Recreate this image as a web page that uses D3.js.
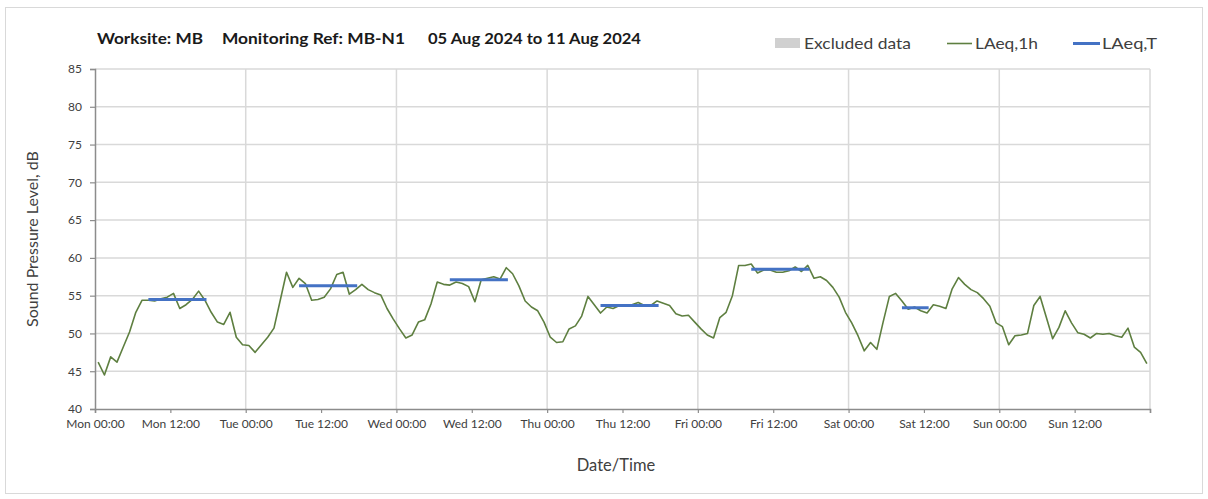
<!DOCTYPE html>
<html>
<head>
<meta charset="utf-8">
<script src="https://cdn.jsdelivr.net/npm/d3@7"></script>
<style>
  body { margin: 0; background: #ffffff; }
  text { font-family: Lato, "Open Sans", sans-serif; }
</style>
</head>
<body>
<div id="cnt"></div>
<script>
// LAeq,1h hourly values, one array per day (00:00 .. 23:00)
let mon = [46.2, 44.5, 46.9, 46.2, 48.2, 50.2, 52.8, 54.4, 54.4, 54.3, 54.6, 54.8, 55.3, 53.3, 53.8, 54.5, 55.6, 54.4, 52.8, 51.5, 51.2, 52.8, 49.5, 48.5];
let tue = [48.4, 47.5, 48.5, 49.5, 50.7, 54.4, 58.1, 56.1, 57.3, 56.6, 54.4, 54.5, 54.8, 55.9, 57.8, 58.1, 55.2, 55.8, 56.5, 55.8, 55.4, 55.1, 53.3, 51.9];
let wed = [50.6, 49.4, 49.8, 51.5, 51.8, 53.9, 56.8, 56.5, 56.4, 56.8, 56.6, 56.2, 54.2, 57.1, 57.3, 57.5, 57.2, 58.7, 57.9, 56.3, 54.3, 53.5, 53.0, 51.5];
let thu = [49.5, 48.8, 48.9, 50.6, 51.0, 52.3, 54.9, 53.8, 52.7, 53.5, 53.3, 53.7, 53.8, 53.8, 54.1, 53.7, 53.7, 54.3, 54.0, 53.7, 52.6, 52.3, 52.4, 51.5];
let fri = [50.6, 49.8, 49.4, 52.1, 52.8, 55.0, 59.0, 59.0, 59.2, 58.0, 58.4, 58.4, 58.1, 58.1, 58.3, 58.8, 58.2, 59.0, 57.3, 57.5, 57.0, 56.1, 54.8, 52.8];
let sat = [51.4, 49.7, 47.7, 48.8, 47.9, 51.5, 54.9, 55.3, 54.3, 53.2, 53.5, 53.0, 52.7, 53.8, 53.6, 53.3, 55.9, 57.4, 56.5, 55.8, 55.4, 54.6, 53.6, 51.4];
let sun = [50.9, 48.5, 49.7, 49.8, 50.0, 53.7, 54.9, 52.1, 49.3, 50.8, 53.0, 51.4, 50.1, 49.9, 49.4, 50.0, 49.9, 50.0, 49.7, 49.5, 50.7, 48.2, 47.5, 46.0];

// LAeq,T periods (day index from Mon, start/end hour, level)
let periodDay = [0, 1, 2, 3, 4, 5];
let periodStart = [8, 8, 8, 8, 8, 8];
let periodEnd = [18, 18, 18, 18, 18, 13];
let periodValue = [54.5, 56.3, 57.1, 53.7, 58.5, 53.4];

let yTicks = [40, 45, 50, 55, 60, 65, 70, 75, 80, 85];

let ancho = 1208;
let largo = 499;
let izq = 95, der = 1150, arriba = 69, abajo = 409;

let t0 = Date.UTC(2024, 7, 5, 0, 0);
let hora = 3600 * 1000;

let horas = mon.concat(tue, wed, thu, fri, sat, sun).map(function (v, i) {
    return { t: new Date(t0 + (i + 0.5) * hora), v: v };
});

let x = d3.scaleUtc()
    .domain([new Date(t0), new Date(t0 + 168 * hora)])
    .range([izq, der]);

let y = d3.scaleLinear()
    .domain([40, 85])
    .range([abajo, arriba]);

let svg = d3.select('#cnt')
    .append("svg")
    .attr('width', ancho)
    .attr('height', largo);

//Marco exterior
svg.append("rect")
    .attr('x', 5.5)
    .attr('y', 7.5)
    .attr('width', 1197)
    .attr('height', 486)
    .style('fill', 'none')
    .style('stroke', '#d9d9d9')
    .style('stroke-width', 1);

//Rejilla horizontal
svg.append("g")
    .selectAll("line")
    .data(yTicks.slice(1))
    .enter()
    .append("line")
    .attr('x1', izq)
    .attr('x2', der)
    .attr('y1', function (d) { return y(d); })
    .attr('y2', function (d) { return y(d); })
    .style('stroke', '#d9d9d9')
    .style('stroke-width', 1.5);

//Rejilla vertical (cada dia)
let dias = d3.utcDay.range(new Date(t0 + hora), new Date(t0 + 169 * hora));
svg.append("g")
    .selectAll("line")
    .data(dias)
    .enter()
    .append("line")
    .attr('x1', function (d) { return x(d); })
    .attr('x2', function (d) { return x(d); })
    .attr('y1', arriba)
    .attr('y2', abajo)
    .style('stroke', '#d9d9d9')
    .style('stroke-width', 1.5);

//Ejes
let fmt = d3.utcFormat("%a %H:%M");
let ejeX = svg.append("g")
    .attr('transform', 'translate(0,' + abajo + ')')
    .call(d3.axisBottom(x)
        .ticks(d3.utcHour.every(12))
        .tickSize(4)
        .tickPadding(6)
        .tickFormat(function (d) { return +d >= t0 + 168 * hora ? "" : fmt(d); }));

let ejeY = svg.append("g")
    .attr('transform', 'translate(' + izq + ',0)')
    .call(d3.axisLeft(y)
        .tickValues(yTicks)
        .tickSize(5)
        .tickPadding(8));

[ejeX, ejeY].forEach(function (eje) {
    eje.select(".domain").style('stroke', '#8c8c8c').style('stroke-width', 1.5);
    eje.selectAll(".tick line").style('stroke', '#8c8c8c').style('stroke-width', 1.2);
    eje.selectAll("text")
        .style('font-family', 'Lato, sans-serif')
        .style('font-size', '12px')
        .style('fill', '#404040');
});

//Linea LAeq,1h
let linea = d3.line()
    .x(function (d) { return x(d.t); })
    .y(function (d) { return y(d.v); });

svg.append("path")
    .datum(horas)
    .attr('d', linea)
    .style('fill', 'none')
    .style('stroke', '#5e7f40')
    .style('stroke-width', 1.6)
    .style('stroke-linejoin', 'round');

//Lineas LAeq,T
svg.append("g")
    .selectAll("line")
    .data(periodValue)
    .enter()
    .append("line")
    .attr('x1', function (d, i) { return x(new Date(t0 + (periodDay[i] * 24 + periodStart[i] + 0.5) * hora)); })
    .attr('x2', function (d, i) { return x(new Date(t0 + (periodDay[i] * 24 + periodEnd[i] - 0.25) * hora)); })
    .attr('y1', function (d) { return y(d); })
    .attr('y2', function (d) { return y(d); })
    .style('stroke', '#4472c4')
    .style('stroke-width', 3);

//Titulo
let titulo = [
    { txt: "Worksite: MB", x: 97, w: 106 },
    { txt: "Monitoring Ref: MB-N1", x: 222, w: 183 },
    { txt: "05 Aug 2024 to 11 Aug 2024", x: 428, w: 213 }
];
svg.append("g")
    .selectAll("text")
    .data(titulo)
    .enter()
    .append("text")
    .attr('x', function (d) { return d.x; })
    .attr('y', 44)
    .attr('textLength', function (d) { return d.w; })
    .attr('lengthAdjust', 'spacingAndGlyphs')
    .style('font-size', '16px')
    .style('font-weight', 'bold')
    .style('fill', '#1a1a1a')
    .text(function (d) { return d.txt; });

//Leyenda
svg.append("rect")
    .attr('x', 775)
    .attr('y', 38)
    .attr('width', 25)
    .attr('height', 10)
    .style('fill', '#d0d0d0');
svg.append("line")
    .attr('x1', 947).attr('x2', 972)
    .attr('y1', 43.5).attr('y2', 43.5)
    .style('stroke', '#5e7f40')
    .style('stroke-width', 1.6);
svg.append("line")
    .attr('x1', 1073).attr('x2', 1100)
    .attr('y1', 43.5).attr('y2', 43.5)
    .style('stroke', '#4472c4')
    .style('stroke-width', 3);

let leyenda = [
    { txt: "Excluded data", x: 804, w: 107 },
    { txt: "LAeq,1h", x: 975, w: 63 },
    { txt: "LAeq,T", x: 1102, w: 55 }
];
svg.append("g")
    .selectAll("text")
    .data(leyenda)
    .enter()
    .append("text")
    .attr('x', function (d) { return d.x; })
    .attr('y', 49)
    .attr('textLength', function (d) { return d.w; })
    .attr('lengthAdjust', 'spacingAndGlyphs')
    .style('font-size', '16px')
    .style('fill', '#404040')
    .text(function (d) { return d.txt; });

//Titulos de ejes
svg.append("text")
    .attr('transform', 'translate(38,' + ((arriba + abajo) / 2) + ') rotate(-90)')
    .attr('text-anchor', 'middle')
    .style('font-size', '16px')
    .style('fill', '#404040')
    .text("Sound Pressure Level, dB");

svg.append("text")
    .attr('x', 616)
    .attr('y', 471)
    .attr('text-anchor', 'middle')
    .style('font-size', '16.5px')
    .style('fill', '#404040')
    .text("Date/Time");
</script>
</body>
</html>
